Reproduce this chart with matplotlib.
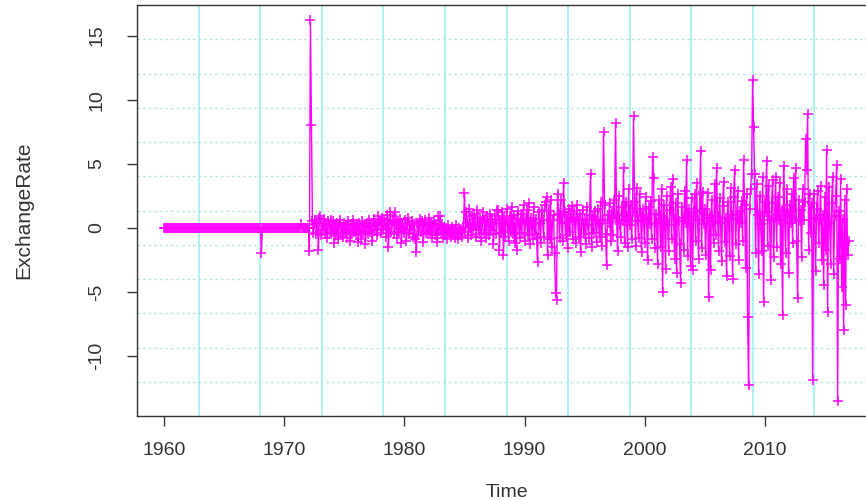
import numpy as np
import matplotlib
matplotlib.use("Agg")
import matplotlib.pyplot as plt

# Monthly series starting Jan 1960 (frequency 12)
start_year = 1960
frequency = 12

rate_1960s = [
    0, 0, 0, 0, 0, 0, 0, 0, 0, 0, 0, 0,
    0, 0, 0, 0, 0, 0, 0, 0, 0, 0, 0, 0,
    0, 0, 0, 0, 0, 0, 0, 0, 0, 0, 0, 0,
    0, 0, 0, 0, 0, 0, 0, 0, 0, 0, 0, 0,
    0, 0, 0, 0, 0, 0, 0, 0, 0, 0, 0, 0,
    0, 0, 0, 0, 0, 0, 0, 0, 0, 0, 0, 0,
    0, 0, 0, 0, 0, 0, 0, 0, 0, 0, 0, 0,
    0, 0, 0, 0, 0, 0, 0, 0, 0, 0, 0, 0,
    0, -2.0, 0, 0, 0, 0, 0, 0, 0, 0, 0, 0,
    0, 0, 0, 0, 0, 0, 0, 0, 0, 0, 0, 0,
]
rate_1970s = [
    0, 0, 0, 0, 0, 0, 0, 0, 0, 0, 0, 0,
    0, 0, 0, 0, 0, 0.3, 0, 0, 0, 0, 0, 0,
    0.0, -1.8, 16.2, 8.0, 0.5, -0.4, 0.3, 0.6, -0.5, 0.4, -1.7, 0.8,
    0.9, -0.6, 0.4, -0.2, 0.7, -0.5, 0.3, -0.8, 0.5, 0.2, -0.4, 0.6,
    -0.3, 0.5, -1.2, 0.2, -0.6, 0.4, -0.9, 0.3, 0.6, -0.4, 0.1, -0.7,
    0.4, -0.3, 0.2, -0.8, 0.5, -0.2, -1.0, 0.3, -0.5, 0.6, -0.3, 0.2,
    -0.6, 0.3, -1.1, 0.4, -0.2, -0.9, 0.5, -0.4, 0.2, -1.3, 0.1, 0.4,
    -0.5, 0.6, -0.3, 0.2, -1.0, 0.4, 0.7, -0.2, 0.3, -0.6, 0.9, 0.2,
    0.5, -0.4, 0.8, -0.2, 0.6, 0.3, -0.7, 1.0, -1.5, 0.4, 1.2, -0.3,
    0.3, 0.9, -0.5, 1.2, 0.2, -0.8, 0.5, -0.3, 0.7, -1.2, 0.4, 0.1,
]
rate_1980s = [
    -0.4, 0.6, -1.0, 0.3, 0.8, -0.5, 0.2, -0.2, 0.5, -0.7, 0.3, -0.9,
    -1.9, 0.4, -0.6, 0.2, 0.7, -0.3, 0.5, -1.1, 0.3, 0.6, -0.4, 0.2,
    -0.5, 0.8, -0.3, 0.4, -0.8, 0.2, 0.5, -0.6, 0.3, -1.1, 0.9, -0.2,
    0.9, -0.4, 0.3, -0.8, 0.1, -0.5, -0.1, -0.9, 0.2, -0.4, -0.2, -0.7,
    0.1, -0.6, -0.1, -0.8, 0.2, -0.3, -0.9, 0.0, -0.5, -0.2, -0.7, 0.1,
    2.75, -0.3, 1.2, 0.4, -0.8, 1.5, 0.2, -0.6, 0.9, -0.2, 1.1, 0.3,
    -0.7, 1.4, 0.3, -0.5, 0.8, -1.0, 0.5, 1.2, -0.4, 0.6, -0.8, 0.9,
    0.4, -0.6, 1.1, -0.2, 0.7, -1.3, 0.3, 0.9, -0.5, 1.4, 1.4, -1.7,
    0.6, -0.4, 1.2, -2.1, 0.8, -0.7, 1.5, 0.3, -1.0, 0.9, -0.3, 1.6,
    -0.5, 1.0, -1.2, 0.7, -1.7, 1.3, 0.4, -0.8, 1.1, -0.4, 0.6, 1.8,
]
rate_1990s = [
    -1.0, 0.5, 1.4, -0.6, 1.9, -1.3, 0.8, 0.2, -0.9, 1.6, -0.5, 0.7,
    -0.8, -2.7, 1.2, 0.4, -1.2, 1.4, 0.6, -0.7, 1.8, 2.0, 2.4, -2.1,
    1.3, -0.9, 2.2, -1.5, 0.6, 1.0, -2.0, -5.1, -5.6, 2.6, 1.1, -0.8,
    2.2, 0.4, -1.0, 3.5, 1.2, -0.6, 0.9, -1.6, 1.5, -0.3, 0.8, 1.7,
    -0.9, 1.3, 0.5, -1.2, 1.8, 0.6, -0.7, 1.1, -1.9, 0.3, 1.4, -0.5,
    0.7, -1.3, 1.6, 0.2, -0.8, 1.0, 4.2, -1.5, 0.9, -0.4, 1.3, 0.5,
    -1.1, 1.5, 0.3, -0.7, 2.0, -1.4, 0.6, 7.5, 1.8, -0.5, -2.9, 1.0,
    0.4, 1.9, -1.0, 1.3, -0.6, 2.2, 0.8, 8.2, 1.0, -1.8, 2.5, 0.3,
    -0.7, 1.6, 0.5, 4.7, -1.2, 2.0, 0.9, -1.5, 3.0, 0.2, 1.8, -0.9,
    1.2, 8.7, 2.0, -1.4, 3.1, 0.5, -0.8, 2.6, 1.0, -1.9, 1.5, 0.6,
]
rate_2000s = [
    -1.2, 2.4, 0.8, -2.5, 1.6, 0.3, 2.1, -0.9, 5.5, 3.9, -1.6, 1.1,
    0.4, -2.8, 2.2, 1.0, -1.5, 3.0, -5.0, 1.8, 0.6, -3.2, 2.5, 0.2,
    -1.8, 1.4, 3.2, -0.9, 3.8, 0.7, -2.4, 1.9, -3.5, 2.6, 0.5, -1.3,
    -4.3, 1.6, 0.8, -1.7, 2.9, 0.4, 5.3, -2.2, 1.5, 0.9, -3.0, 2.3,
    -3.3, 1.2, 2.6, -1.0, 3.5, 0.6, -2.4, 1.4, 6.0, -1.6, 2.8, 0.3,
    1.5, -2.1, 0.8, 2.7, -5.4, 1.0, -3.3, 2.2, 0.5, -1.2, 3.4, -0.6,
    4.7, 0.9, -1.8, 2.3, 0.4, -2.6, 1.7, 3.6, -1.1, 0.8, -3.8, 2.0,
    0.6, -2.2, 3.1, 1.0, -4.0, 2.4, 4.5, -1.3, 0.7, 2.9, -2.5, 1.3,
    0.4, 2.1, -1.0, 5.3, 1.8, -3.1, 2.6, -7.0, -12.3, 1.5, 3.0, 4.2,
    11.5, 7.9, 4.2, -2.0, 3.4, 1.0, -3.6, 2.5, 0.3, -1.8, 4.0, -5.8,
]
rate_2010s = [
    2.0, 1.2, 5.2, -1.4, 3.3, 0.6, -4.1, 1.9, 3.7, -2.3, 0.8, 4.0,
    -1.5, 2.4, 0.6, 3.5, -2.8, 1.4, -6.8, 4.8, 0.9, -2.0, 3.0, 1.1,
    -3.5, 1.8, 0.4, 2.6, -1.2, 3.9, 0.7, 4.7, -1.0, -5.5, 2.2, 0.5,
    1.4, -2.3, 3.0, 0.6, 2.0, 6.9, 4.5, 8.9, -1.7, 2.6, -0.4, 1.9,
    -11.9, 2.6, 0.8, -3.4, 1.5, 2.9, -1.2, 0.6, 3.3, -2.5, 1.0, -4.5,
    2.4, -1.7, 6.1, -6.6, 3.2, 0.4, -2.8, 1.9, 4.0, -3.6, 0.9, 2.5,
    4.9, -13.5, 1.3, -2.4, 3.8, -4.6, 0.7, -8.0, 2.2, -6.0, 3.0, -2.1,
    -1.0,
]

x_ticks = [1960, 1970, 1980, 1990, 2000, 2010]
y_ticks = [-10, -5, 0, 5, 10, 15]

values = np.array(rate_1960s + rate_1970s + rate_1980s + rate_1990s
                  + rate_2000s + rate_2010s, dtype=float)
time = start_year + np.arange(len(values)) / frequency

plt.rcParams['font.family'] = ['Liberation Sans', 'DejaVu Sans']

fig = plt.figure(figsize=(8.66, 5.0), dpi=100)
# axes in pixel terms: left 137, right 876 (past edge), top 5, bottom 416
ax = fig.add_axes([137 / 866, (500 - 416) / 500, (876 - 137) / 866, (416 - 5) / 500])

ax.plot(time, values, color='#ff00ff', lw=1.0, marker='+', ms=6.5, mew=1.1, zorder=3)
ax.margins(x=0.04, y=0.04)
ax.autoscale_view()

x0, x1 = ax.get_xlim()
y0, y1 = ax.get_ylim()
# R-style grid(12, 12)
for k in range(1, 12):
    ax.axvline(x0 + k * (x1 - x0) / 12, color='#a6f0f2', lw=1.3, zorder=1)
    ax.axhline(y0 + k * (y1 - y0) / 12, color='#bfe4e8', lw=1.0, ls=(0, (2, 2)), zorder=1)
ax.set_xlim(x0, x1)
ax.set_ylim(y0, y1)

ax.set_xticks(x_ticks)
ax.set_yticks(y_ticks)
ax.set_xticklabels([str(t) for t in x_ticks], fontsize=14, color='#333333')
ax.set_yticklabels([str(t) for t in y_ticks], fontsize=14, color='#333333',
                   rotation=90, va='center')
ax.tick_params(axis='x', length=7, width=1, pad=12, color='#333333')
ax.tick_params(axis='y', length=7, width=1, pad=16, color='#333333')
for s in ax.spines.values():
    s.set_color('#333333')
    s.set_linewidth(1.0)

ax.set_xlabel('Time', fontsize=14, color='#333333')
ax.xaxis.set_label_coords(0.5, -0.165)
ax.set_ylabel('ExchangeRate', fontsize=15, color='#333333')
ax.yaxis.set_label_coords(-0.14, 0.5)

fig.savefig('out.png', dpi=100)
